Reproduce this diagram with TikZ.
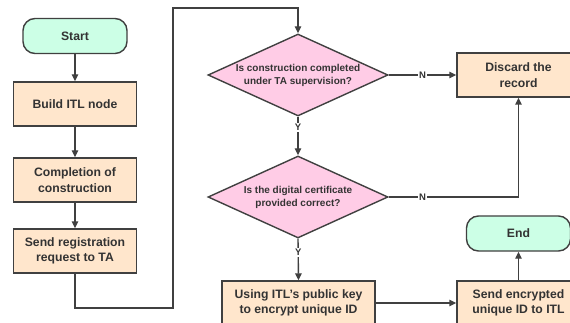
\documentclass[tikz,border=0pt]{standalone}
\usepackage{fontspec}
\setmainfont{Liberation Sans}
\usetikzlibrary{shapes.geometric,arrows.meta}
\definecolor{mint}{HTML}{CCFFE6}
\definecolor{peach}{HTML}{FFE6CC}
\definecolor{pinkd}{HTML}{FFCCE6}
\definecolor{edgec}{HTML}{404040}
\definecolor{txtc}{HTML}{333333}
\begin{document}
\begin{tikzpicture}[x=1pt,y=-1pt,
  base/.style={draw=edgec, line width=1.4pt, text=txtc, font=\bfseries\fontsize{12.2}{15.5}\selectfont, align=center, inner sep=0pt},
  term/.style={base, rounded corners=12pt, fill=mint, minimum width=104pt, minimum height=35pt},
  proc/.style={base, fill=peach, minimum width=123pt, minimum height=44pt},
  dec/.style={base, diamond, aspect=2.2, fill=pinkd, minimum width=180pt, minimum height=82pt, font=\bfseries\fontsize{10}{13}\selectfont},
  arr/.style={draw=edgec, line width=1.4pt, -{Triangle[length=7pt,width=6.5pt]}},
  lab/.style={fill=white, text=txtc, font=\bfseries\fontsize{9.5}{10}\selectfont, inner sep=1pt}]
\clip (0,0) rectangle (570,323);
\fill[white] (0,0) rectangle (570,323);

\node[term] (start) at (75,36) {Start};
\node[proc] (build) at (75,104) {Build ITL node};
\node[proc] (compl) at (75,180) {Completion of\\construction};
\node[proc] (send) at (75,251) {Send registration\\request to TA};

\node[dec] (d1) at (298,75) {Is construction completed\\under TA supervision?};
\node[dec] (d2) at (298,197) {Is the digital certificate\\provided correct?};
\node[proc, minimum width=153pt] (using) at (298.5,303) {Using ITL's public key\\to encrypt unique ID};

\node[proc] (discard) at (518.5,75) {Discard the\\record};
\node[term] (end) at (518.5,233.5) {End};
\node[proc] (senc) at (518.5,303) {Send encrypted\\unique ID to ITL};

\coordinate (c1) at (173,308);
\coordinate (c2) at (173,8);

\draw[arr] (start) -- (build);
\draw[arr] (build) -- (compl);
\draw[arr] (compl) -- (send);
\draw[arr] (send.south) |- (c1) -- (c2) -| (d1.north);
\draw[arr] (d1.east) -- node[lab]{N} (discard.west);
\draw[arr] (d1.south) -- node[lab, pos=0.28]{Y} (d2.north);
\draw[arr] (d2.east) -| node[lab, pos=0.13]{N} (discard.south);
\draw[arr] (d2.south) -- node[lab, pos=0.33]{Y} (using.north);
\draw[arr] (using.east) -- (senc.west);
\draw[arr] (senc.north) -- (end.south);
\end{tikzpicture}
\end{document}
